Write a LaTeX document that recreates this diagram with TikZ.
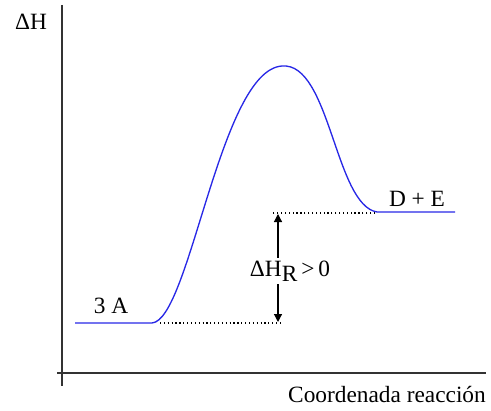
\documentclass[tikz,border=0pt]{standalone}
\usepackage{fontspec}
\setmainfont{Liberation Serif}
\usetikzlibrary{arrows.meta}
\definecolor{eblue}{RGB}{40,40,230}
\definecolor{axgray}{HTML}{333333}

\begin{document}
\begin{tikzpicture}[x=0.75pt, y=-0.75pt,
  lbl/.style={font=\fontsize{17.5}{20}\selectfont, inner sep=0pt},
  level/.style={draw=eblue, line width=1pt},
  guide/.style={dotted, line width=0.9pt},
  axis/.style={draw=axgray, line width=1.1pt}]
\useasboundingbox (0,0) rectangle (491,410);
% ejes
\coordinate (ytop) at (62,5);
\coordinate (ybot) at (62,386);
\coordinate (xl) at (57,373);
\coordinate (xr) at (486,373);
\draw[axis] (ytop) -- (ybot);
\draw[axis] (xl) -- (xr);
\node[lbl] (dh) at (31,22) {ΔH};
\node[lbl] (xlab) at (387,394) {Coordenada reacción};
% perfil de energia
\coordinate (r0) at (75,323);
\coordinate (r1) at (152,323);
\coordinate (ts) at (282,66);
\coordinate (p0) at (377,212);
\coordinate (p1) at (455,212);
\draw[level] (r0) -- (r1) .. controls (190,320) and (220,70) .. (ts)
  .. controls (330,62) and (335,205) .. (p0) -- (p1);
\node[lbl] (rA) at (111,306) {3 A};
\node[lbl] (pDE) at (417,199) {D + E};
% variacion de entalpia
\coordinate (gr0) at (160,323);
\coordinate (gr) at (283,323);
\coordinate (gp0) at (375,213);
\coordinate (gp) at (273,213);
\coordinate (ar) at (278,322);
\coordinate (ap) at (278,214);
\draw[guide] (gr0) -- (gr);
\draw[guide] (gp0) -- (gp);
\node[lbl, inner sep=2pt] (dhr) at (290,271) {ΔH\raisebox{-0.5ex}{R}\,>\,0};
\draw[-{Triangle[width=6pt,length=6pt]}, line width=0.9pt] (dhr.north -| ap) -- (ap);
\draw[-{Triangle[width=6pt,length=6pt]}, line width=0.9pt] (dhr.south -| ar) -- (ar);
\end{tikzpicture}
\end{document}
